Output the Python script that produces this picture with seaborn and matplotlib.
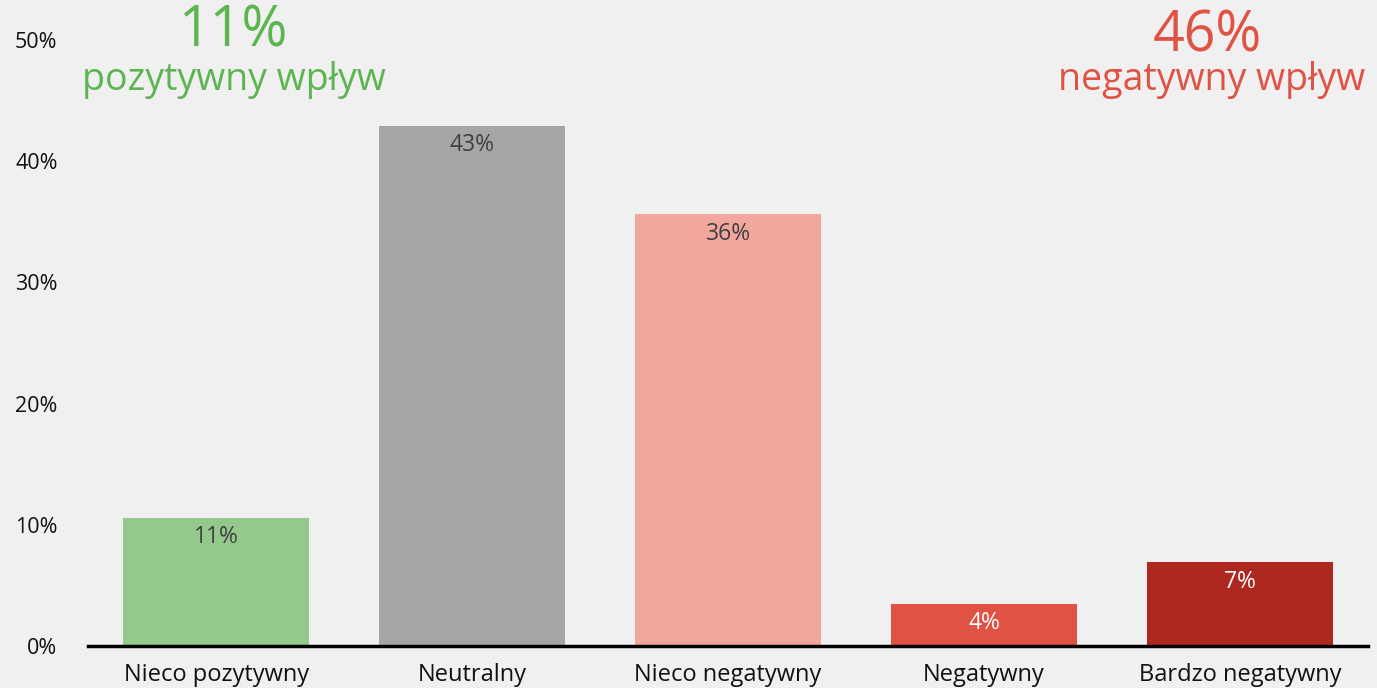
import numpy as np
import pandas as pd
import matplotlib.pyplot as plt
import seaborn as sns

# dane
kategorie = ["Nieco pozytywny", "Neutralny", "Nieco negatywny", "Negatywny", "Bardzo negatywny"]
wartosci = [10.6, 42.9, 35.6, 3.5, 6.9]
etykiety = ["11%", "43%", "36%", "4%", "7%"]
kolory = ["#93C98B", "#A6A6A6", "#F1A69E", "#E05244", "#AF2820"]
kolory_etykiet = ["#404040", "#404040", "#404040", "white", "white"]
yticks = [0, 10, 20, 30, 40, 50]

df = pd.DataFrame({"kategoria": kategorie, "wartosc": wartosci})

sns.set_theme(style="white")
plt.rcParams["font.family"] = ["Open Sans", "DejaVu Sans"]

tlo = "#F0F0F0"
fig = plt.figure(figsize=(13.77, 6.88), dpi=100, facecolor=tlo)
ax = fig.add_axes([0.064, 0.061, 0.9295, 0.881])
ax.set_facecolor(tlo)

sns.barplot(data=df, x="kategoria", y="wartosc", hue="kategoria",
            palette=kolory, legend=False, width=0.727, saturation=1,
            linewidth=0, ax=ax)

for i, p in enumerate(ax.patches):
    ax.text(p.get_x() + p.get_width() / 2, p.get_height() - 0.6, etykiety[i],
            ha="center", va="top", fontsize=16.5, color=kolory_etykiet[i])

ax.set_xlim(-0.5, 4.5)
ax.set_ylim(0, 50)
ax.set_yticks(yticks)
ax.set_yticklabels([f"{t}%" for t in yticks])
ax.tick_params(axis="y", length=0, pad=22, labelsize=15.5, labelcolor="#111111")
ax.tick_params(axis="x", length=0, pad=12, labelsize=17, labelcolor="#111111")
ax.set_xlabel("")
ax.set_ylabel("")
for s in ["top", "right", "left"]:
    ax.spines[s].set_visible(False)
ax.spines["bottom"].set_color("black")
ax.spines["bottom"].set_linewidth(2.5)

zielony = "#5DB552"
czerwony = "#E05244"
fig.text(233 / 1377, 1 - 32 / 688, "11%", ha="center", va="center", fontsize=40, color=zielony)
fig.text(234 / 1377, 1 - 80 / 688, "pozytywny wpływ", ha="center", va="center", fontsize=27, color=zielony)
fig.text(1207 / 1377, 1 - 37 / 688, "46%", ha="center", va="center", fontsize=40, color=czerwony)
fig.text(1212 / 1377, 1 - 80 / 688, "negatywny wpływ", ha="center", va="center", fontsize=27, color=czerwony)

fig.savefig("out.png", dpi=100, facecolor=tlo)
